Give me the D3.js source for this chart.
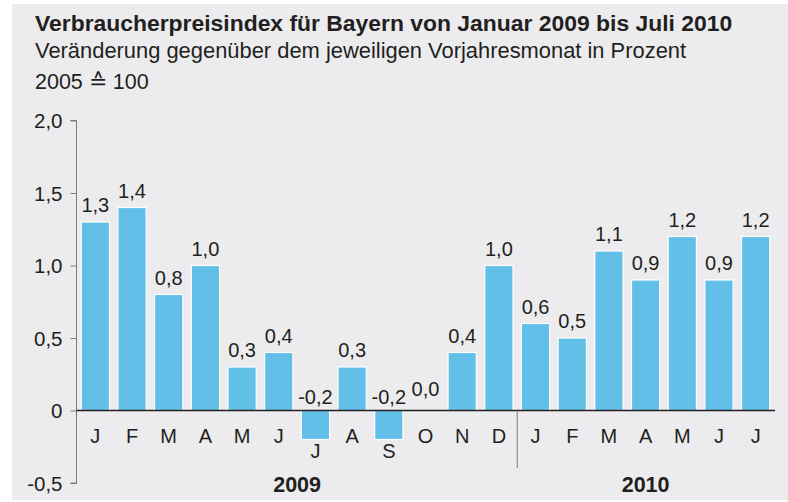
<!DOCTYPE html>
<html><head>
<meta charset="utf-8">
<script src="https://d3js.org/d3.v7.min.js"></script>
<style>
  body { margin: 0; background: #fff; }
  text { font-family: "Liberation Sans", Arial, sans-serif; fill: #231f20; }
</style>
</head>
<body>
<svg id="chart" width="788" height="502"></svg>
<script>
// data
const months = ["J", "F", "M", "A", "M", "J", "J", "A", "S", "O", "N", "D",
                "J", "F", "M", "A", "M", "J", "J"];
const values = [1.3, 1.4, 0.8, 1.0, 0.3, 0.4, -0.2, 0.3, -0.2, 0.0, 0.4, 1.0,
                0.6, 0.5, 1.1, 0.9, 1.2, 0.9, 1.2];
const years = ["2009", "2010"];
const yTicks = [-0.5, 0, 0.5, 1.0, 1.5, 2.0];

const svg = d3.select("#chart");
const fmt = v => v === 0 ? "0" : d3.format(".1f")(v).replace(".", ",").replace("−", "-");
const fmtVal = v => d3.format(".1f")(v).replace(".", ",").replace("−", "-");

svg.append("rect").attr("x", 12).attr("y", 4).attr("width", 776).attr("height", 496)
   .attr("fill", "#ececee");

svg.append("text").attr("x", 35).attr("y", 30.5).attr("font-size", 22.9)
   .attr("font-weight", "bold")
   .text("Verbraucherpreisindex für Bayern von Januar 2009 bis Juli 2010");
svg.append("text").attr("x", 35).attr("y", 57.5).attr("font-size", 21.9)
   .text("Veränderung gegenüber dem jeweiligen Vorjahresmonat in Prozent");
svg.append("text").attr("x", 35).attr("y", 88.5).attr("font-size", 21.5)
   .text("2005 \u2259 100");

const idx = months.map((m, i) => i);
const x = d3.scaleBand().domain(idx).range([77, 774]).paddingInner(0.23).paddingOuter(0.115);
const y = d3.scaleLinear().domain([-0.5, 2.0]).range([483, 120.5]);

// y axis
const yAxis = svg.append("g").attr("transform", "translate(76.5,0)")
  .call(d3.axisLeft(y).tickValues(yTicks).tickFormat(fmt).tickSize(6).tickPadding(8));
yAxis.select(".domain").attr("stroke", "#7a7a7a").attr("d", "M-6,120.5H0V483H-6");
yAxis.selectAll(".tick line").attr("stroke", "#7a7a7a");
yAxis.selectAll(".tick text").attr("font-size", 20.5).attr("fill", "#231f20")
     .attr("font-family", "Liberation Sans, Arial, sans-serif").attr("dy", "0.36em");

// bars
svg.append("g").selectAll("rect").data(values).join("rect")
  .attr("x", (d, i) => x(i))
  .attr("width", x.bandwidth())
  .attr("y", d => y(Math.max(0, d)))
  .attr("height", d => Math.abs(y(d) - y(0)))
  .attr("fill", "#62bfe8")
  .attr("stroke", "#ffffff")
  .attr("stroke-width", 1.2);

// zero line
svg.append("line").attr("x1", 76.5).attr("x2", 775).attr("y1", y(0)).attr("y2", y(0))
   .attr("stroke", "#231f20").attr("stroke-width", 1.6);

// value labels
svg.append("g").selectAll("text").data(values).join("text")
  .attr("x", (d, i) => x(i) + x.bandwidth() / 2)
  .attr("y", d => d > 0 ? y(d) - 10 : (d === 0 ? y(0) - 15 : y(0) - 7))
  .attr("text-anchor", "middle").attr("font-size", 20)
  .text(d => fmtVal(d));

// month labels
svg.append("g").selectAll("text").data(months).join("text")
  .attr("x", (d, i) => x(i) + x.bandwidth() / 2)
  .attr("y", (d, i) => values[i] < 0 ? 458 : 443)
  .attr("text-anchor", "middle").attr("font-size", 20)
  .text(d => d);

// year separator
const sep = (x(11) + x.bandwidth() + x(12)) / 2;
svg.append("line").attr("x1", sep).attr("x2", sep).attr("y1", y(0)).attr("y2", 468)
   .attr("stroke", "#7a7a7a").attr("stroke-width", 1);

// year labels
const yearPos = [(x(0) + x(11) + x.bandwidth()) / 2, (x(12) + x(18) + x.bandwidth()) / 2];
svg.append("g").selectAll("text").data(years).join("text")
  .attr("x", (d, i) => yearPos[i])
  .attr("y", 492)
  .attr("text-anchor", "middle").attr("font-size", 21.5).attr("font-weight", "bold")
  .text(d => d);
</script>
</body>
</html>
